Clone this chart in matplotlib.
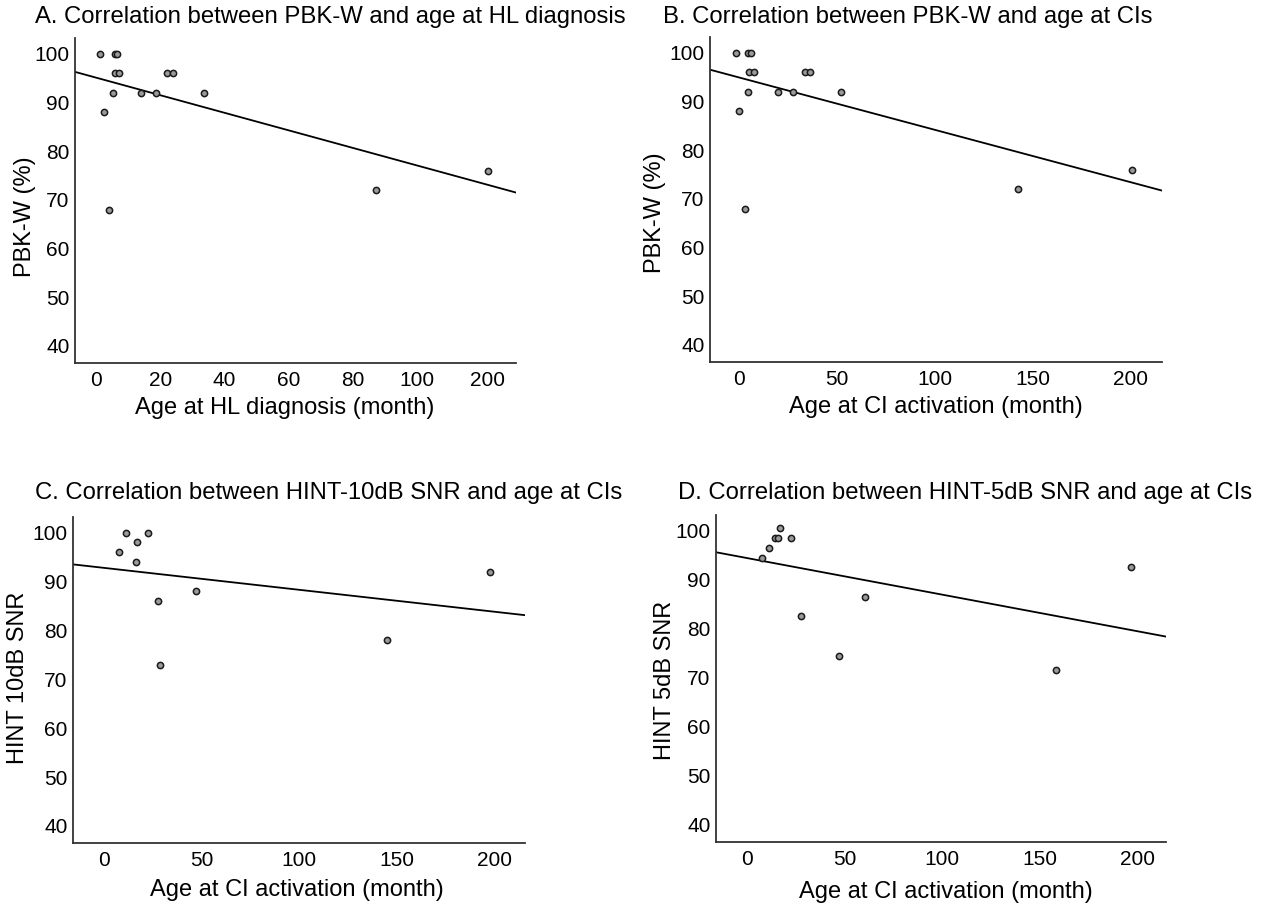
import matplotlib
matplotlib.use("Agg")
import matplotlib.pyplot as plt

plt.rcParams['font.family'] = ['Liberation Sans', 'DejaVu Sans']

# A: age at HL diagnosis vs PBK-W
a_x = [1.3, 6.0, 6.5, 6.0, 7.2, 5.2, 2.5, 3.9, 14.1, 18.8, 22.2, 24.1, 33.5, 87.4, 122.3]
a_y = [100, 100, 100, 96, 96, 92, 88, 68, 92, 92, 96, 96, 92, 72, 76]
a_xticks = [0, 20, 40, 60, 80, 100, 122]
a_xticklabels = ['0', '20', '40', '60', '80', '100', '200']
a_fit = (95.06, -0.18)

# B: age at CI activation vs PBK-W
b_x = [-1.7, 4.6, 6.3, 5.2, 7.7, 4.8, 0.2, 2.9, 19.8, 27.7, 33.8, 36.5, 52.0, 142.5, 200.6]
b_y = [100, 100, 100, 96, 96, 92, 88, 68, 92, 92, 96, 96, 92, 72, 76]
b_fit = (94.9, -0.1075)

# C: age at CI activation vs HINT 10dB SNR
c_x = [7.9, 11.2, 16.7, 16.1, 22.3, 27.7, 28.5, 47.1, 144.6, 197.5]
c_y = [96, 100, 98, 94, 100, 86, 73, 88, 78, 92]
c_fit = (92.79, -0.0449)

# D: age at CI activation vs HINT 5dB SNR
d_x = [7.9, 11.3, 14.4, 16.1, 17.1, 22.6, 28.0, 47.2, 60.8, 158.4, 196.9]
d_y = [94.5, 96.5, 98.5, 98.5, 100.5, 98.5, 82.5, 74.5, 86.5, 71.5, 92.5]
d_fit = (94.43, -0.0747)

ci_xticks = [0, 50, 100, 150, 200]
yticks = [40, 50, 60, 70, 80, 90, 100]

W, H = 1267, 907
fig = plt.figure(figsize=(W / 100, H / 100), dpi=100)


def box(l, t, r, b):
    return [l / W, 1 - b / H, (r - l) / W, (b - t) / H]


panels = [
    (box(75, 38, 516, 363), a_x, a_y, a_fit, (-6.6, 131), a_xticks, a_xticklabels,
     "A. Correlation between PBK-W and age at HL diagnosis", (35, 17),
     "Age at HL diagnosis (month)", (0.476, -0.138), "PBK-W (%)", (-0.113, 0.45)),
    (box(710, 37, 1162, 362), b_x, b_y, b_fit, (-14.8, 216), ci_xticks, None,
     "B. Correlation between PBK-W and age at CIs", (663, 17),
     "Age at CI activation (month)", (0.5, -0.14), "PBK-W (%)", (-0.121, 0.46)),
    (box(73, 517, 525, 843), c_x, c_y, c_fit, (-15.9, 215.5), ci_xticks, None,
     "C. Correlation between HINT-10dB SNR and age at CIs", (35, 493),
     "Age at CI activation (month)", (0.495, -0.144), "HINT 10dB SNR", (-0.122, 0.506)),
    (box(716, 515, 1166, 842), d_x, d_y, d_fit, (-15.7, 214.6), ci_xticks, None,
     "D. Correlation between HINT-5dB SNR and age at CIs", (678, 493),
     "Age at CI activation (month)", (0.51, -0.153), "HINT 5dB SNR", (-0.113, 0.495)),
]

for (rect, xs, ys, fit, xlim, xt, xtl, title, tpos,
     xlabel, xlpos, ylabel, ylpos) in panels:
    ax = fig.add_axes(rect)
    ax.plot(xs, ys, 'o', ms=4.5, mfc='#9a9a9a', mec='#1a1a1a', mew=1.1, zorder=3)
    ax.axline((0, fit[0]), slope=fit[1], color='black', lw=1.3)
    ax.set_xlim(*xlim)
    ax.set_ylim(36.5, 103.2)
    ax.set_xticks(xt)
    if xtl:
        ax.set_xticklabels(xtl)
    ax.set_yticks(yticks)
    ax.tick_params(length=0, labelsize=15)
    ax.tick_params(axis='x', pad=6)
    ax.tick_params(axis='y', pad=4)
    for s in ['top', 'right']:
        ax.spines[s].set_visible(False)
    for s in ['left', 'bottom']:
        ax.spines[s].set_color('#333333')
        ax.spines[s].set_linewidth(1.3)
    ax.set_xlabel(xlabel, fontsize=17, va='center')
    ax.xaxis.set_label_coords(*xlpos)
    ax.set_ylabel(ylabel, fontsize=17, va='center')
    ax.yaxis.set_label_coords(*ylpos)
    fig.text(tpos[0] / W, 1 - tpos[1] / H, title, fontsize=17.2, ha='left', va='center')

fig.savefig("out.png", dpi=100)
